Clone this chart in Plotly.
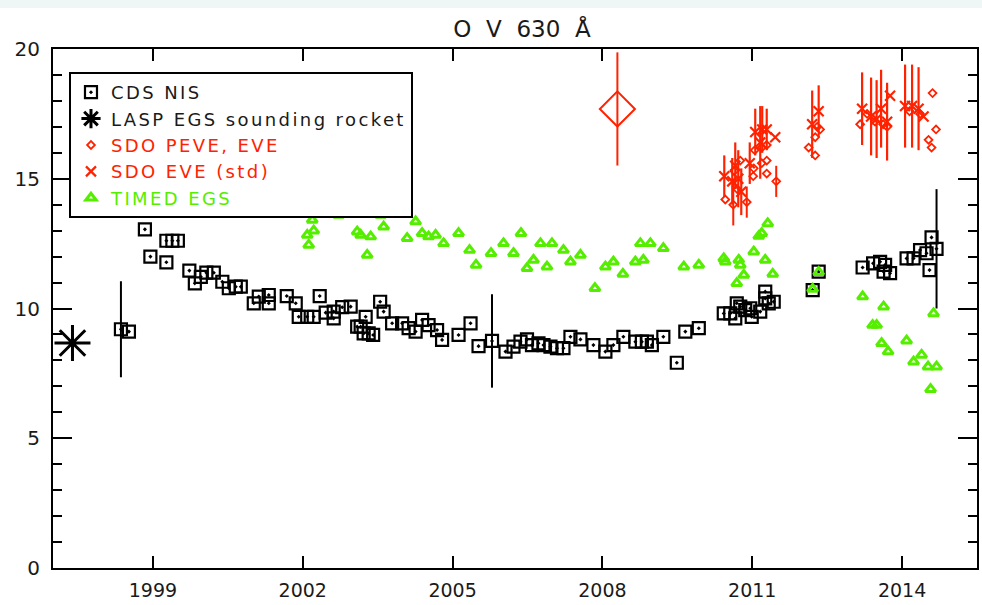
import plotly.graph_objects as go

# ---- CDS NIS (O V 630 A irradiance) ----
cds_year = [1998.36, 1998.52, 1998.84, 1998.95, 1999.27, 1999.39, 1999.50, 1999.27, 1999.73, 1999.84,
            1999.96, 2000.07, 2000.22, 2000.39, 2000.52, 2000.66, 2000.76, 2001.02, 2001.12, 2001.32,
            2001.32, 2001.68, 2001.86, 2001.92, 2002.09, 2002.22, 2002.34, 2002.46, 2002.62, 2002.79,
            2002.96, 2002.62, 2003.09, 2003.16, 2003.26, 2003.22, 2003.32, 2003.41, 2003.55, 2003.62,
            2003.79, 2003.99, 2004.12, 2004.26, 2004.39, 2004.52, 2004.69, 2004.79, 2005.12, 2005.36,
            2005.52, 2005.79, 2006.06, 2006.22, 2006.36, 2006.49, 2006.59, 2006.72, 2006.82, 2006.96,
            2007.09, 2007.22, 2007.36, 2007.56, 2007.82, 2008.06, 2008.22, 2008.42, 2008.66, 2008.79,
            2008.89, 2008.99, 2009.22, 2009.49, 2009.66, 2009.93, 2010.43, 2010.56, 2010.69, 2010.76,
            2010.86, 2010.96, 2010.66, 2010.99, 2011.16, 2011.26, 2011.26, 2011.33, 2011.43, 2012.21,
            2012.33, 2013.21, 2013.42, 2013.56, 2013.66, 2013.76, 2013.63, 2014.09, 2014.23, 2014.36,
            2014.49, 2014.69, 2014.59, 2014.55]
cds_val = [9.20, 9.11, 13.05, 12.00, 12.61, 12.61, 12.61, 11.78, 11.46, 10.97,
           11.22, 11.38, 11.38, 11.03, 10.78, 10.84, 10.84, 10.20, 10.46, 10.52,
           10.20, 10.48, 10.20, 9.68, 9.68, 9.68, 10.48, 9.84, 9.88, 10.05,
           10.07, 9.62, 9.30, 9.30, 9.68, 9.04, 9.04, 8.98, 10.26, 9.88,
           9.43, 9.43, 9.24, 9.11, 9.56, 9.36, 9.17, 8.79, 8.98, 9.43,
           8.55, 8.75, 8.34, 8.53, 8.72, 8.81, 8.59, 8.66, 8.59, 8.53,
           8.47, 8.47, 8.91, 8.81, 8.59, 8.34, 8.59, 8.91, 8.72, 8.72,
           8.72, 8.59, 8.91, 7.91, 9.11, 9.24, 9.81, 9.81, 10.20, 10.07,
           9.94, 10.01, 9.62, 9.68, 9.88, 10.65, 10.39, 10.20, 10.26, 10.71,
           11.42, 11.58, 11.74, 11.80, 11.68, 11.36, 11.42, 11.93, 11.93, 12.25,
           12.13, 12.30, 12.74, 11.48]
# uncertainty bars on three representative points
cds_err = [0.0] * len(cds_val)
cds_err[0] = 1.85
cds_err[51] = 1.80
cds_err[101] = 2.30

# ---- LASP EGS sounding rocket ----
lasp_year = [1997.39]
lasp_val = [8.67]

# ---- SDO PEVE, EVE ----
peve_year = [2010.46, 2010.62, 2010.64, 2010.70, 2010.76, 2010.89, 2011.02, 2011.03, 2011.05, 2011.19,
             2011.29, 2011.19, 2011.29, 2011.29, 2011.48, 2012.13, 2012.26, 2012.26, 2012.30, 2012.36,
             2013.16, 2013.30, 2013.46, 2013.62, 2013.70, 2014.15, 2014.36, 2014.61, 2014.68, 2014.53,
             2014.59]
peve_val = [14.2, 14.0, 15.3, 14.6, 15.7, 14.1, 15.1, 15.4, 16.1, 16.2,
            16.3, 15.6, 15.7, 15.2, 14.9, 16.2, 15.9, 16.6, 17.0, 16.9,
            17.1, 17.5, 17.2, 17.1, 17.0, 17.6, 17.5, 18.3, 16.9, 16.5,
            16.2]
peve_err = [0.0, 0.8, 0.0, 0.0, 0.0, 0.6, 0.0, 0.0, 0.0, 0.0,
            0.0, 0.0, 0.0, 0.0, 0.6, 0.0, 0.0, 0.0, 0.0, 0.0,
            0.0, 0.0, 0.0, 0.0, 0.0, 0.0, 0.0, 0.0, 0.0, 0.0,
            0.0]

# PEVE rocket flight, 2008
peve08_year = [2008.30]
peve08_val = [17.69]
peve08_err = [2.18]

# ---- SDO EVE (std) ----
eve_year = [2010.44, 2010.60, 2010.66, 2010.72, 2010.78, 2010.95, 2011.06, 2011.16, 2011.20, 2011.29,
            2011.46, 2012.20, 2012.33, 2013.20, 2013.38, 2013.49, 2013.58, 2013.76, 2013.70, 2014.06,
            2014.20, 2014.33, 2014.43]
eve_val = [15.1, 14.9, 15.5, 15.0, 14.5, 15.6, 16.8, 16.4, 16.9, 16.9,
           16.6, 17.1, 17.6, 17.7, 17.4, 17.3, 17.7, 18.2, 17.2, 17.8,
           17.8, 17.7, 17.4]
eve_err = [0.8, 0.9, 0.9, 1.1, 0.9, 0.8, 0.9, 1.4, 0.9, 0.8,
           0.0, 1.3, 1.0, 1.4, 1.5, 1.5, 1.5, 0.0, 1.5, 1.6,
           1.6, 1.6, 0.0]

# ---- TIMED EGS ----
timed_year = [2002.19, 2002.09, 2002.12, 2002.22, 2002.36, 2002.46, 2002.62, 2002.72, 2002.79, 2002.96,
              2003.09, 2003.16, 2003.26, 2003.36, 2003.29, 2003.56, 2003.62, 2003.72, 2003.82, 2003.99,
              2004.09, 2004.26, 2004.39, 2004.52, 2004.66, 2004.82, 2005.12, 2005.34, 2005.47, 2005.77,
              2006.02, 2006.22, 2006.37, 2006.49, 2006.62, 2006.76, 2006.89, 2006.99, 2007.22, 2007.36,
              2007.56, 2007.85, 2008.06, 2008.22, 2008.41, 2008.66, 2008.82, 2008.76, 2008.96, 2009.22,
              2009.63, 2009.93, 2010.43, 2010.46, 2010.73, 2010.76, 2010.83, 2010.69, 2011.03, 2011.13,
              2011.19, 2011.31, 2011.26, 2011.41, 2012.21, 2012.33, 2013.21, 2013.63, 2013.41, 2013.49,
              2013.59, 2013.72, 2014.09, 2014.23, 2014.39, 2014.52, 2014.69, 2014.63, 2014.57]
timed_val = [13.41, 12.83, 12.45, 13.00, 14.50, 13.80, 13.67, 13.60, 15.14, 14.12,
             12.96, 12.83, 14.12, 12.77, 12.06, 13.60, 13.15, 13.80, 13.86, 13.86,
             12.71, 13.35, 12.90, 12.77, 12.83, 12.51, 12.90, 12.25, 11.68, 12.13,
             12.51, 12.13, 12.90, 11.55, 11.87, 12.51, 11.61, 12.51, 12.25, 11.80,
             12.06, 10.78, 11.61, 11.80, 11.33, 11.80, 11.87, 12.51, 12.51, 12.32,
             11.61, 11.68, 11.93, 11.80, 11.87, 11.68, 11.29, 10.97, 12.19, 12.79,
             12.90, 13.28, 11.87, 11.33, 10.75, 11.40, 10.46, 10.07, 9.36, 9.36,
             8.66, 8.34, 8.76, 7.95, 8.21, 7.76, 7.76, 9.81, 6.89]

# axis ticks
year_ticks = [1999, 2002, 2005, 2008, 2011, 2014]
year_labels = ["1999", "2002", "2005", "2008", "2011", "2014"]
val_ticks = [0, 5, 10, 15, 20]

BLACK = "#000000"
RED = "#ff2200"
GREEN = "#55ee00"
FONT = "DejaVu Sans"


def label(text, color=None):
    """Legend label with slightly open letter spacing and optional colour."""
    style = "letter-spacing:2.4px"
    if color:
        style += ";color:%s" % color
    return '<span style="%s">%s</span>' % (style, text)


fig = go.Figure()

fig.add_trace(go.Scatter(
    x=cds_year, y=cds_val, mode="markers", name=label("CDS NIS"),
    marker=dict(symbol="square-open-dot", size=12, color=BLACK, line=dict(width=2.2, color=BLACK)),
    error_y=dict(type="data", array=cds_err, symmetric=True, color=BLACK, thickness=2, width=0),
))
fig.add_trace(go.Scatter(
    x=lasp_year, y=lasp_val, mode="markers", name=label("LASP EGS sounding rocket"),
    marker=dict(symbol="asterisk-open", size=30, color=BLACK, line=dict(width=3, color=BLACK)),
))
fig.add_trace(go.Scatter(
    x=peve_year, y=peve_val, mode="markers",
    name=label("SDO PEVE, EVE", RED), legendgroup="peve",
    marker=dict(symbol="diamond-open", size=6, color=RED, line=dict(width=1.8, color=RED)),
    error_y=dict(type="data", array=peve_err, symmetric=True, color=RED, thickness=2, width=0),
))
fig.add_trace(go.Scatter(
    x=eve_year, y=eve_val, mode="markers",
    name=label("SDO EVE (std)", RED),
    marker=dict(symbol="x-thin", size=10, color=RED, line=dict(width=2.2, color=RED)),
    error_y=dict(type="data", array=eve_err, symmetric=True, color=RED, thickness=2.2, width=0),
))
fig.add_trace(go.Scatter(
    x=timed_year, y=timed_val, mode="markers",
    name=label("TIMED EGS", GREEN),
    marker=dict(symbol="triangle-up-open", size=9, color=GREEN, line=dict(width=3, color=GREEN)),
))
fig.add_trace(go.Scatter(
    x=peve08_year, y=peve08_val, mode="markers", showlegend=False, legendgroup="peve",
    marker=dict(symbol="diamond-open", size=27, color=RED, line=dict(width=2, color=RED)),
    error_y=dict(type="data", array=peve08_err, symmetric=True, color=RED, thickness=2, width=0),
))

# thin tinted strip along the top edge of the page
fig.add_shape(type="rect", xref="paper", yref="paper", x0=-0.06, x1=1.01, y0=1.079, y1=1.10,
              fillcolor="#eef6f6", line=dict(width=0), layer="below")

fig.update_layout(
    width=982, height=605,
    margin=dict(l=53, r=5, t=49, b=37, autoexpand=False),
    paper_bgcolor="white", plot_bgcolor="white",
    font=dict(family=FONT, size=20, color="#1a1a1a"),
    title=dict(text="O\u00a0\u00a0V\u00a0\u00a0630\u00a0\u00a0Å", x=0.5076, xref="paper", xanchor="center",
               y=0.952, yref="container", yanchor="middle",
               font=dict(family=FONT, size=23, color="#1a1a1a")),
    showlegend=True,
    legend=dict(x=0.0173, y=0.9557, xanchor="left", yanchor="top",
                bordercolor=BLACK, borderwidth=2, bgcolor="white",
                font=dict(family=FONT, size=18, color="#1a1a1a"),
                itemsizing="trace", tracegroupgap=0),
    xaxis=dict(range=[1997, 2015.5], tickmode="array", tickvals=year_ticks, ticktext=year_labels,
               showgrid=False, zeroline=False, showline=True, linecolor=BLACK, linewidth=2,
               mirror="ticks", ticks="inside", ticklen=12, tickwidth=2, tickcolor=BLACK,
               ticklabelstandoff=4, automargin=False, tickfont=dict(family=FONT, size=19)),
    yaxis=dict(range=[0, 20], tickmode="array", tickvals=val_ticks,
               showgrid=False, zeroline=False, showline=True, linecolor=BLACK, linewidth=2,
               mirror="ticks", ticks="inside", ticklen=19, tickwidth=2, tickcolor=BLACK,
               ticklabelstandoff=7, automargin=False,
               minor=dict(dtick=1, ticks="inside", ticklen=9, tickwidth=2, tickcolor=BLACK, showgrid=False)),
)

fig.write_html("out.html")
